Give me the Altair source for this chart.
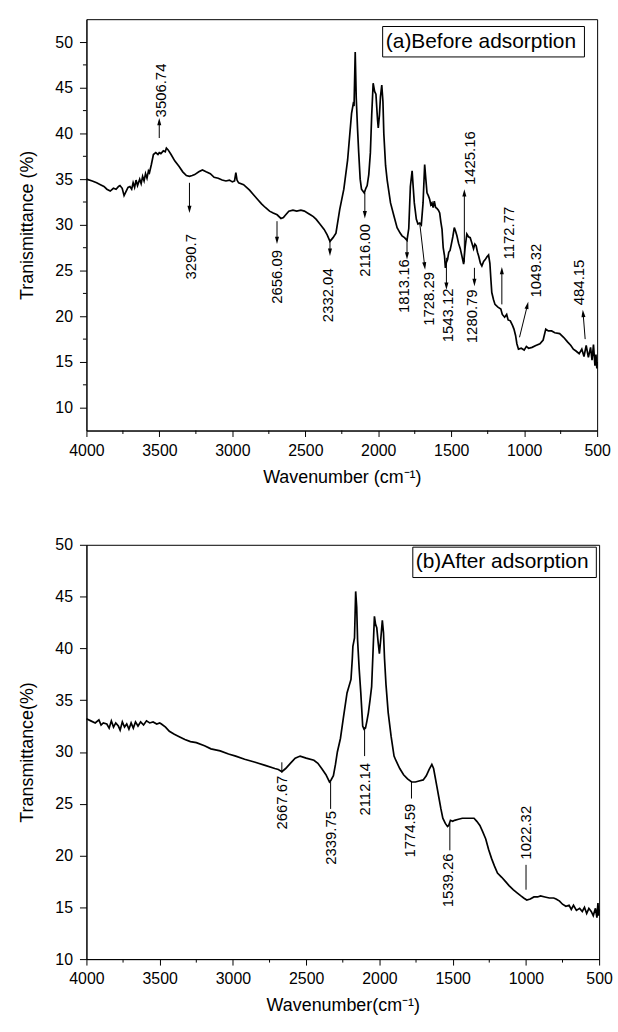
import altair as alt
import pandas as pd

FONT = "Liberation Sans"

# ---------------- (a) Before adsorption spectrum ----------------
top_wn = [4000, 3960, 3930, 3904, 3880, 3860, 3837, 3815, 3797, 3780, 3770, 3755, 3742, 3730, 3715,
          3702, 3690, 3680, 3670, 3660, 3650, 3635, 3625, 3615, 3605, 3595, 3585, 3575, 3568, 3555,
          3541, 3525, 3510, 3501, 3490, 3473, 3460, 3452, 3440, 3420, 3395, 3366, 3340, 3315, 3294,
          3275, 3258, 3230, 3205, 3180, 3151, 3125, 3097, 3070, 3044, 3020, 3000, 2985, 2976, 2968,
          2957, 2923, 2882, 2855, 2828, 2800, 2774, 2745, 2720, 2693, 2667, 2650, 2640, 2613, 2585,
          2559, 2530, 2506, 2485, 2465, 2445, 2425, 2400, 2371, 2350, 2331, 2310, 2290, 2264, 2236,
          2210, 2183, 2172, 2166, 2158, 2151, 2142, 2134, 2124, 2115, 2096, 2085, 2076, 2065, 2054,
          2045, 2035, 2025, 2016, 2005, 2000, 1992, 1985, 1976, 1968, 1962, 1950, 1939, 1916, 1893,
          1871, 1850, 1837, 1820, 1803, 1791, 1780, 1768, 1760, 1753, 1739, 1728, 1716, 1705, 1693,
          1682, 1674, 1666, 1657, 1648, 1640, 1632, 1624, 1616, 1607, 1598, 1588, 1579, 1571, 1563,
          1555, 1546, 1540, 1533, 1525, 1517, 1508, 1499, 1489, 1479, 1470, 1461, 1450, 1438, 1427,
          1415, 1405, 1393, 1382, 1370, 1358, 1347, 1338, 1329, 1320, 1312, 1300, 1290, 1278, 1267,
          1255, 1244, 1235, 1228, 1222, 1210, 1200, 1180, 1160, 1150, 1134, 1120, 1110, 1095, 1080,
          1070, 1059, 1050, 1039, 1020, 1000, 985, 970, 946, 920, 892, 870, 852, 835, 812,
          790, 757, 730, 703, 680, 663, 645, 623, 605, 590, 575, 560, 545, 535, 525,
          515, 508, 502, 500]
top_val = [35.0, 34.8, 34.6, 34.4, 34.2, 33.9, 33.7, 34.0, 33.9, 34.2, 34.3, 34.0, 33.2, 33.6, 34.1,
           34.2, 33.9, 34.6, 34.1, 34.9, 34.3, 35.0, 34.5, 35.3, 34.8, 35.6, 35.1, 35.9, 35.7, 36.6,
           37.7, 37.9, 37.7, 37.9, 37.8, 38.1, 38.0, 38.4, 38.2, 37.7, 37.0, 36.4, 35.8, 35.4, 35.3,
           35.4, 35.5, 35.8, 36.0, 35.8, 35.6, 35.2, 35.1, 34.9, 34.8, 34.9, 34.7, 34.8, 35.7, 34.9,
           34.6, 34.4, 33.8, 33.3, 32.8, 32.3, 31.9, 31.5, 31.3, 31.1, 30.7, 30.8, 31.0, 31.5, 31.6,
           31.5, 31.6, 31.5, 31.3, 31.1, 30.9, 30.6, 30.1, 29.5, 28.9, 28.2, 28.6, 29.1, 31.7, 33.9,
           37.1, 42.2, 43.2, 43.0, 48.9, 43.9, 40.5, 37.9, 35.0, 33.9, 33.5, 34.0, 34.3, 35.5, 37.9,
           42.0, 45.5, 44.6, 44.3, 41.5, 40.6, 42.0, 44.0, 45.3, 43.5, 40.0, 36.5, 34.9, 32.4, 31.0,
           29.7, 29.1, 28.8, 28.6, 28.3, 29.6, 34.2, 35.9, 34.0, 32.4, 30.6, 30.1, 30.2, 30.0, 32.4,
           36.6, 35.0, 33.5, 33.2, 32.8, 32.2, 32.4, 31.9, 32.6, 31.9, 31.8, 31.6, 31.3, 30.3, 29.5,
           27.5, 26.6, 25.3, 25.9, 26.2, 27.0, 27.2, 27.9, 28.7, 29.7, 29.3, 28.8, 28.0, 27.4, 26.6,
           25.7, 27.5, 29.0, 28.7, 28.6, 28.0, 27.4, 27.9, 27.7, 27.0, 26.6, 25.8, 25.5, 26.0, 26.2,
           26.5, 26.7, 25.8, 24.0, 22.6, 21.8, 21.3, 21.0, 20.8, 20.2, 19.9, 20.2, 19.6, 19.5, 19.0,
           18.6, 17.9, 17.0, 16.4, 16.5, 16.3, 16.7, 16.5, 16.6, 16.8, 17.0, 17.4, 18.6, 18.4, 18.4,
           18.2, 18.1, 17.7, 17.2, 16.8, 16.4, 16.2, 15.9, 16.4, 15.6, 16.8, 15.5, 16.6, 15.2, 16.9,
           14.6, 15.8, 14.3, 15.0]

# ---------------- (b) After adsorption spectrum ----------------
bot_wn = [4000, 3970, 3940, 3915, 3900, 3885, 3861, 3845, 3830, 3815, 3800, 3782, 3770, 3755, 3740,
          3725, 3710, 3695, 3680, 3665, 3648, 3630, 3610, 3590, 3568, 3545, 3520, 3500, 3488, 3460,
          3434, 3400, 3370, 3328, 3290, 3250, 3194, 3150, 3087, 3030, 2981, 2920, 2848, 2780, 2714,
          2690, 2666, 2640, 2608, 2575, 2541, 2500, 2447, 2420, 2394, 2365, 2341, 2330, 2314, 2300,
          2287, 2266, 2247, 2221, 2194, 2185, 2181, 2170, 2162, 2155, 2149, 2138, 2127, 2114, 2105,
          2095, 2085, 2075, 2064, 2053, 2044, 2034, 2026, 2018, 2008, 2000, 1990, 1980, 1972, 1965,
          1955, 1940, 1920, 1900, 1888, 1861, 1835, 1808, 1780, 1754, 1730, 1701, 1680, 1661, 1642,
          1630, 1621, 1608, 1594, 1580, 1567, 1550, 1535, 1527, 1515, 1500, 1487, 1460, 1434, 1400,
          1375, 1354, 1335, 1314, 1295, 1274, 1255, 1234, 1215, 1194, 1165, 1140, 1115, 1087, 1060,
          1034, 1015, 994, 970, 945, 920, 900, 870, 840, 810, 794, 770, 750, 727, 705,
          690, 675, 655, 633, 615, 600, 585, 570, 554, 540, 525, 515, 508, 503, 500]
bot_val = [33.2, 33.0, 32.8, 33.1, 32.6, 32.8, 32.7, 32.3, 33.0, 32.4, 32.8, 32.5, 32.1, 32.9, 32.4,
           32.7, 32.2, 32.8, 32.3, 32.9, 32.5, 32.9, 32.6, 33.0, 32.8, 32.9, 32.7, 32.8, 32.7, 32.4,
           32.0, 31.7, 31.5, 31.2, 31.0, 30.9, 30.6, 30.3, 30.1, 29.8, 29.6, 29.3, 29.0, 28.7, 28.4,
           28.3, 28.1, 28.4, 28.9, 29.4, 29.6, 29.4, 29.2, 28.9, 28.4, 27.8, 27.1, 27.3, 27.7, 28.8,
           30.0, 31.3, 33.2, 35.7, 37.0, 39.0, 40.2, 41.0, 45.5, 44.0, 40.8, 38.0, 35.7, 32.5, 32.2,
           32.3, 33.0, 33.8, 35.0, 36.3, 39.5, 43.1, 42.3, 42.0, 40.5, 39.5, 41.0, 42.7, 41.5, 39.0,
           36.5, 33.8, 31.5, 29.6, 29.2, 28.4, 27.8, 27.4, 27.1, 27.1, 27.2, 27.3, 27.7, 28.3, 28.8,
           28.4, 27.7, 26.7, 25.6, 24.5, 23.6, 23.1, 22.8, 22.9, 23.4, 23.3, 23.4, 23.5, 23.6, 23.6,
           23.6, 23.6, 23.3, 22.9, 22.3, 21.6, 20.6, 19.7, 19.0, 18.3, 17.9, 17.5, 17.1, 16.7, 16.4,
           16.1, 15.9, 15.7, 15.8, 16.0, 16.0, 16.1, 16.0, 15.9, 15.9, 15.8, 15.6, 15.3, 15.1, 15.2,
           14.8, 15.2, 14.7, 14.9, 14.6, 15.0, 14.4, 14.9, 14.6, 14.2, 14.9, 14.0, 15.4, 14.2, 14.8]

# ---------------- annotations (a) ----------------
top_lab = ["3506.74", "3290.7", "2656.09", "2332.04", "2116.00", "1813.16", "1728.29",
           "1543.12", "1280.79", "1425.16", "1172.77", "1049.32", "484.15"]
top_lab_wn = [3487, 3285, 2695, 2345, 2089, 1825, 1654, 1524, 1358, 1370, 1107, 919, 623]
top_lab_val = [44.7, 26.5, 24.3, 22.3, 27.2, 23.3, 21.9, 20.1, 20.0, 37.3, 29.1, 25.0, 23.7]
top_tail_wn = [3501, 3294, 2694, 2331, 2092, 1803, 1716, 1533, 1341, 1410, 1153, 1032, 582]
top_tail_val = [39.5, 34.6, 30.4, 28.4, 33.5, 28.4, 30.2, 26.4, 25.3, 25.9, 21.3, 17.7, 17.5]
top_head_wn = [3501, 3294, 2694, 2331, 2092, 1803, 1682, 1533, 1341, 1410, 1153, 978, 596]
top_head_val = [41.3, 31.7, 28.3, 27.0, 31.1, 26.6, 25.5, 23.3, 23.7, 33.5, 25.0, 21.2, 20.3]
top_head_ang = [0, 180, 180, 180, 180, 180, 173, 180, 180, 0, 0, 14, 355]

# ---------------- annotations (b) ----------------
bot_lab = ["2667.67", "2339.75", "2112.14", "1774.59", "1539.26", "1022.32"]
bot_lab_wn = [2666, 2333, 2101, 1794, 1532, 999]
bot_lab_val = [25.1, 21.7, 26.4, 22.4, 17.6, 22.2]
bot_line_wn = [2666, 2333, 2101, 1781, 1519, 999]
bot_line_val1 = [29.0, 27.2, 32.4, 27.1, 23.1, 19.1]
bot_line_val2 = [28.0, 24.5, 29.6, 25.5, 20.5, 16.7]

# ---------------- panel tag boxes ----------------
top_box = {"wn": 1970, "wn2": 587, "val": 48.37, "val2": 51.7, "tx": 1948, "ty": 50.0,
           "text": "(a)Before adsorption"}
bot_box = {"wn": 1772, "wn2": 519, "val": 46.84, "val2": 49.77, "tx": 1752, "ty": 48.3,
           "text": "(b)After adsorption"}

x_major = [4000, 3500, 3000, 2500, 2000, 1500, 1000, 500]
x_minor = [3750, 3250, 2750, 2250, 1750, 1250, 750]
ARROW = "M-0.55,1L0,-1L0.55,1Z"


def panel(wn, val, w, h, ydom, yticks, yminor, ytitle, xtitle, box, labels, arrows, lines):
    xs = alt.Scale(domain=[500, 4000], reverse=True, nice=False, zero=False)
    ys = alt.Scale(domain=ydom, nice=False, zero=False)
    xax = alt.Axis(values=x_major, format="d", tickSize=6, labelPadding=6, titlePadding=10,
                   grid=False, labelFlush=False)
    yax = alt.Axis(values=yticks, format="d", tickSize=7, labelPadding=7, titlePadding=18,
                   grid=False, labelFlush=False)
    X = alt.X("wn:Q", scale=xs, axis=xax, title=xtitle)
    Y = alt.Y("val:Q", scale=ys, axis=yax, title=ytitle)

    df = pd.DataFrame({"wn": wn, "val": val})
    base = alt.Chart(df).mark_line(color="black", strokeWidth=1.7).encode(x=X, y=Y)
    layers = [base]

    mx = pd.DataFrame({"wn": x_minor})
    layers.append(alt.Chart(mx).mark_rule(color="black", strokeWidth=1).encode(
        x=X, y=alt.value(h), y2=alt.value(h + 3.5)))
    if yminor:
        my = pd.DataFrame({"val": yminor})
        layers.append(alt.Chart(my).mark_rule(color="black", strokeWidth=1).encode(
            y=Y, x=alt.value(0), x2=alt.value(-3.5)))

    bdf = pd.DataFrame([box])
    layers.append(alt.Chart(bdf).mark_rect(fill="white", stroke="black", strokeWidth=1).encode(
        x=X, x2="wn2:Q", y=Y, y2="val2:Q"))
    layers.append(alt.Chart(bdf).mark_text(font=FONT, fontSize=21, align="left",
                                           baseline="middle", color="black").encode(
        x=alt.X("tx:Q", scale=xs, axis=xax, title=xtitle),
        y=alt.Y("ty:Q", scale=ys, axis=yax, title=ytitle), text="text:N"))

    ldf = pd.DataFrame({"wn": labels[1], "val": labels[2], "lab": labels[0]})
    layers.append(alt.Chart(ldf).mark_text(font=FONT, fontSize=15, angle=270, align="center",
                                           baseline="middle", color="black").encode(
        x=X, y=Y, text="lab:N"))

    if arrows is not None:
        adf = pd.DataFrame({"wn": arrows[0], "val": arrows[1], "wn2": arrows[2],
                            "val2": arrows[3], "ang": arrows[4]})
        layers.append(alt.Chart(adf).mark_rule(color="black", strokeWidth=1).encode(
            x=X, y=Y, x2="wn2:Q", y2="val2:Q"))
        hdf = pd.DataFrame({"wn": arrows[2], "val": arrows[3], "ang": arrows[4]})
        layers.append(alt.Chart(hdf).mark_point(shape=ARROW, filled=True, size=55,
                                                color="black", opacity=1).encode(
            x=X, y=Y, angle=alt.Angle("ang:Q", scale=None)))
    if lines is not None:
        ndf = pd.DataFrame({"wn": lines[0], "val": lines[1], "val2": lines[2]})
        layers.append(alt.Chart(ndf).mark_rule(color="black", strokeWidth=1).encode(
            x=X, y=Y, y2="val2:Q"))

    return alt.layer(*layers).properties(width=w, height=h)


top = panel(top_wn, top_val, 514, 414, [7.5, 52.5], [10, 15, 20, 25, 30, 35, 40, 45, 50],
            [12.5, 17.5, 22.5, 27.5, 32.5, 37.5, 42.5, 47.5],
            "Tranismittance (%)", "Wavenumber (cm\u207b\u00b9)", top_box,
            (top_lab, top_lab_wn, top_lab_val),
            (top_tail_wn, top_tail_val, top_head_wn, top_head_val, top_head_ang), None)

bot = panel(bot_wn, bot_val, 516, 417, [10, 50], [10, 15, 20, 25, 30, 35, 40, 45, 50],
            None, "Transmittance(%)", "Wavenumber(cm\u207b\u00b9)", bot_box,
            (bot_lab, bot_lab_wn, bot_lab_val), None,
            (bot_line_wn, bot_line_val1, bot_line_val2))

chart = alt.vconcat(top, bot, spacing=49).properties(
    padding={"left": 18, "top": 15, "right": 5, "bottom": 5},
    background="white",
).configure_view(stroke="black", strokeWidth=1).configure_axis(
    labelFont=FONT, labelFontSize=16, labelColor="black",
    titleFont=FONT, titleFontSize=18, titleFontWeight="normal", titleColor="black",
    domainColor="black", tickColor="black", domainWidth=1, tickWidth=1,
)

chart.save("out.html", embed_options={"renderer": "svg", "actions": False})
